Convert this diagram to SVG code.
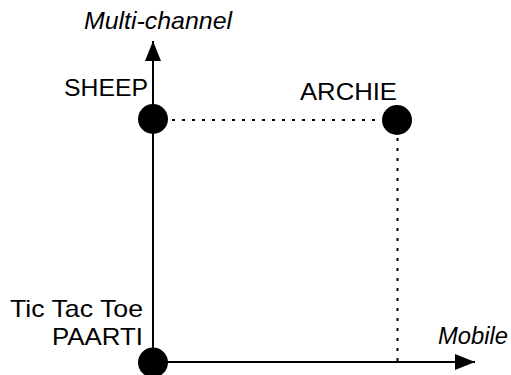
<svg xmlns="http://www.w3.org/2000/svg" width="511" height="375" viewBox="0 0 511 375">
<style>
  .lbl { font-family: "Liberation Sans", Arial, Helvetica, sans-serif; font-size: 24px; fill: #000; }
  .it { font-style: italic; }
  .axis { stroke: #000; stroke-width: 2; fill: none; }
  .dot { stroke: #000; stroke-width: 2; stroke-dasharray: 3 7; fill: none; }
  .node circle { fill: #000; }
</style>
<defs>
  <marker id="arrow" viewBox="0 0 20 16" refX="20" refY="8" markerWidth="20" markerHeight="16" markerUnits="userSpaceOnUse" orient="auto">
    <path d="M0,0 L20,8 L0,16 Z" fill="#000"/>
  </marker>
</defs>
<rect width="511" height="375" fill="#fff"/>
<g id="connectors">
  <line class="axis" x1="153" y1="362" x2="153" y2="41" marker-end="url(#arrow)"/>
  <line class="axis" x1="153" y1="362" x2="475" y2="362" marker-end="url(#arrow)"/>
  <line class="dot" x1="172" y1="120" x2="382" y2="120"/>
  <line class="dot" x1="397.5" y1="138" x2="397.5" y2="361"/>
</g>
<g id="axis-labels">
  <text class="lbl it" x="84" y="29" textLength="148" lengthAdjust="spacingAndGlyphs">Multi-channel</text>
  <text class="lbl it" x="438" y="344" textLength="70" lengthAdjust="spacingAndGlyphs">Mobile</text>
</g>
<g id="node-sheep" class="node">
  <circle cx="153" cy="119" r="15"/>
  <text class="lbl" x="64" y="96" textLength="84" lengthAdjust="spacingAndGlyphs">SHEEP</text>
</g>
<g id="node-archie" class="node">
  <circle cx="397" cy="120" r="15"/>
  <text class="lbl" x="300" y="100" textLength="97" lengthAdjust="spacingAndGlyphs">ARCHIE</text>
</g>
<g id="node-origin" class="node">
  <circle cx="153" cy="362.5" r="15"/>
  <text class="lbl" x="10" y="317" textLength="133" lengthAdjust="spacingAndGlyphs">Tic Tac Toe</text>
  <text class="lbl" x="52" y="345" textLength="91" lengthAdjust="spacingAndGlyphs">PAARTI</text>
</g>
</svg>
